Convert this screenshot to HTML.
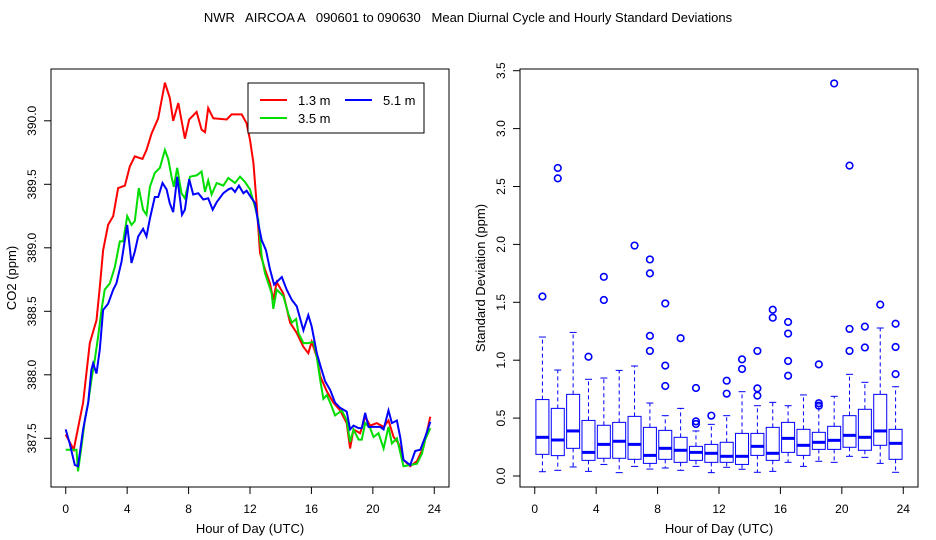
<!DOCTYPE html>
<html><head><meta charset="utf-8"><style>
body{margin:0;background:#fff;}
svg{display:block;font-family:"Liberation Sans",sans-serif;}
#title{white-space:pre;}
</style></head><body>
<svg id="c" width="936" height="540">
<text id="title" x="468" y="22" font-size="13" text-anchor="middle" xml:space="preserve">NWR   AIRCOA A   090601 to 090630   Mean Diurnal Cycle and Hourly Standard Deviations</text>
<g id="left"></g>
<g id="right"></g>
</svg>
<script>
const redHours=[0,0.52,1.13,1.57,2.0,2.22,2.43,2.76,3.09,3.41,3.85,4.17,4.5,5.0,5.26,5.59,6.02,6.46,6.78,7.0,7.33,7.76,8.04,8.52,8.85,9.07,9.28,9.61,10.48,10.8,11.46,11.78,12.0,12.22,12.43,12.65,12.98,13.3,13.52,13.74,14.17,14.61,15.04,15.48,15.8,16.02,16.35,16.57,17.0,17.43,17.87,18.3,18.52,18.74,19.17,19.5,19.83,20.26,20.7,21.02,21.35,21.67,22.0,22.43,22.87,23.3,23.74];
const redVals=[387.53,387.41,387.78,388.25,388.43,388.69,388.98,389.18,389.25,389.47,389.49,389.64,389.72,389.70,389.77,389.90,390.02,390.30,390.18,390.00,390.14,389.86,390.01,390.07,389.93,389.91,390.10,390.02,390.01,390.05,390.05,389.98,389.85,389.67,389.35,388.96,388.83,388.72,388.59,388.73,388.64,388.41,388.33,388.22,388.17,388.26,388.14,387.99,387.87,387.78,387.72,387.62,387.42,387.57,387.54,387.67,387.60,387.62,387.59,387.64,387.51,387.46,387.33,387.28,387.32,387.43,387.67];
const greenHours=[0,0.70,0.80,1.02,1.24,1.46,1.67,1.89,2.11,2.33,2.54,2.87,3.20,3.52,3.74,4.0,4.28,4.5,4.76,5.04,5.26,5.48,5.80,6.13,6.46,6.67,6.89,7.04,7.26,7.54,7.76,8.09,8.52,8.85,9.07,9.28,9.50,9.83,10.26,10.59,11.02,11.35,11.67,12.0,12.33,12.54,12.76,12.98,13.2,13.41,13.52,13.74,14.17,14.5,14.72,15.0,15.15,15.48,15.8,16.13,16.35,16.57,16.78,17.0,17.22,17.54,17.98,18.3,18.52,18.74,19.07,19.28,19.5,19.83,20.04,20.37,20.7,21.02,21.24,21.57,22.0,22.43,22.87,23.2,23.41,23.74];
const greenVals=[387.41,387.41,387.24,387.43,387.64,387.78,387.96,388.12,388.30,388.51,388.67,388.72,388.85,389.05,389.05,389.25,389.18,389.21,389.47,389.30,389.26,389.48,389.59,389.63,389.77,389.70,389.56,389.48,389.63,389.43,389.39,389.56,389.57,389.60,389.44,389.53,389.42,389.51,389.49,389.55,389.51,389.56,389.52,389.46,389.32,389.22,388.93,388.80,388.72,388.64,388.52,388.67,388.62,388.48,388.41,388.44,388.33,388.25,388.25,388.26,388.14,387.96,387.81,387.84,387.78,387.68,387.72,387.64,387.47,387.57,387.49,387.49,387.62,387.58,387.51,387.54,387.42,387.59,387.46,387.50,387.28,387.29,387.30,387.38,387.49,387.58];
const blueHours=[0,0.26,0.59,0.80,1.13,1.46,1.67,1.78,2.0,2.22,2.43,2.76,3.09,3.30,3.63,4.0,4.28,4.5,4.72,5.04,5.26,5.48,5.80,6.02,6.30,6.57,6.78,7.0,7.26,7.57,7.76,8.04,8.30,8.63,8.96,9.28,9.57,9.83,10.26,10.59,10.8,11.02,11.28,11.57,11.78,12.11,12.33,12.54,12.76,13.04,13.3,13.57,14.07,14.39,14.72,15.04,15.48,15.8,16.02,16.35,16.61,16.89,17.22,17.54,17.87,18.3,18.52,18.74,19.07,19.28,19.5,19.72,20.04,20.48,20.7,21.02,21.24,21.57,21.78,22.0,22.43,22.76,23.09,23.41,23.74];
const blueVals=[387.57,387.46,387.29,387.28,387.57,387.78,388.04,388.09,388.01,388.20,388.51,388.56,388.67,388.72,388.89,389.18,388.88,388.97,389.09,389.15,389.09,389.23,389.40,389.40,389.51,389.46,389.35,389.28,389.56,389.26,389.30,389.54,389.42,389.43,389.38,389.39,389.30,389.36,389.43,389.46,389.47,389.44,389.49,389.43,389.45,389.39,389.35,389.19,389.06,388.98,388.83,388.71,388.77,388.67,388.59,388.54,388.35,388.47,388.38,388.17,388.06,387.95,387.88,387.78,387.74,387.71,387.57,387.60,387.58,387.58,387.70,387.59,387.59,387.59,387.57,387.72,387.62,387.64,387.51,387.33,387.29,387.40,387.41,387.51,387.63];
const xTicks=[0,4,8,12,16,20,24];
const leftYTicks=[387.5,388.0,388.5,389.0,389.5,390.0];
const rightYTicks=[0.0,0.5,1.0,1.5,2.0,2.5,3.0,3.5];
const boxHours=[0.5,1.5,2.5,3.5,4.5,5.5,6.5,7.5,8.5,9.5,10.5,11.5,12.5,13.5,14.5,15.5,16.5,17.5,18.5,19.5,20.5,21.5,22.5,23.5];
const q1=[0.187,0.176,0.239,0.135,0.153,0.153,0.144,0.109,0.144,0.118,0.135,0.118,0.118,0.100,0.178,0.135,0.204,0.178,0.230,0.230,0.248,0.222,0.265,0.144];
const med=[0.334,0.311,0.389,0.204,0.273,0.300,0.273,0.178,0.239,0.222,0.204,0.196,0.170,0.170,0.256,0.196,0.325,0.265,0.291,0.308,0.351,0.334,0.389,0.282];
const q3=[0.660,0.584,0.705,0.480,0.438,0.463,0.515,0.420,0.394,0.334,0.256,0.273,0.291,0.368,0.368,0.420,0.463,0.403,0.377,0.429,0.521,0.576,0.705,0.403];
const whiskLo=[0.037,0.049,0.078,0.040,0.100,0.029,0.083,0.060,0.069,0.049,0.083,0.029,0.075,0.058,0.032,0.040,0.118,0.083,0.127,0.118,0.170,0.161,0.109,0.032];
const whiskHi=[1.20,0.915,1.24,0.835,0.846,0.912,0.95,0.63,0.521,0.584,0.389,0.446,0.521,0.728,0.607,0.636,0.607,0.70,0.622,0.688,0.878,0.809,1.278,0.771];
const outliers=[[1.55],[2.66,2.57],[],[1.03],[1.72,1.52],[],[1.99],[1.87,1.75,1.21,1.08],[1.49,0.953,0.777],[1.19],[0.76,0.472,0.449],[0.521],[0.823,0.711],[1.007,0.924],[1.08,0.757,0.694],[1.436,1.367],[1.33,1.23,0.993,0.866],[],[0.964,0.628,0.607],[3.39],[2.68,1.27,1.08],[1.29,1.11],[1.48],[1.315,1.114,0.88]];

const NS="http://www.w3.org/2000/svg";
function mk(parent,tag,attrs){const e=document.createElementNS(NS,tag);for(const k in attrs)e.setAttribute(k,attrs[k]);parent.appendChild(e);return e;}
const T=69,B=487;
const L={l:51,r:449};
const lx=h=>L.l+ (h+0.96)*(L.r-L.l)/25.92;
const ly=v=>438.3-(v-387.5)*127;
const R={l:520,r:918};
const rx=h=>R.l+(h+0.96)*(R.r-R.l)/25.92;
const ry=v=>476-v*115.8;

const left=document.getElementById('left');
const right=document.getElementById('right');

function axes(g,box,xf,yTicks,yf,ylabel,ylx){
  const f=mk(g,'rect',{x:box.l,y:T,width:box.r-box.l,height:B-T,fill:'none',stroke:'#000','stroke-width':1});
  
  
  xTicks.forEach(t=>{
    const x=xf(t);
    const tk=mk(g,'line',{x1:x,x2:x,y1:B,y2:B+7,stroke:'#000'});
    
    
    const tx=mk(g,'text',{x:x,y:B+26,'font-size':12,'text-anchor':'middle'});
    tx.textContent=t;
    
    
  });
  yTicks.forEach(t=>{
    const y=yf(t);
    const tk=mk(g,'line',{x1:box.l-7,x2:box.l,y1:y,y2:y,stroke:'#000'});
    
    
    const tx=mk(g,'text',{x:0,y:0,'font-size':12,'text-anchor':'middle',transform:`translate(${box.l-15},${y}) rotate(-90)`});
    tx.textContent=t.toFixed(1);
    
    
  });
  const xt=mk(g,'text',{x:(box.l+box.r)/2,y:533,'font-size':13,'text-anchor':'middle'});
  xt.textContent='Hour of Day (UTC)';
  
  
  const yt=mk(g,'text',{x:0,y:0,'font-size':13,'text-anchor':'middle',transform:`translate(${ylx},${(T+B)/2}) rotate(-90)`});
  yt.textContent=ylabel;
  
  
}
axes(left,L,lx,leftYTicks,ly,'CO2 (ppm)',16);
axes(right,R,rx,rightYTicks,ry,'Standard Deviation (ppm)',485);

function series(hs,vs,color,name){
  const p=mk(left,'polyline',{points:hs.map((h,i)=>lx(h).toFixed(1)+','+ly(vs[i]).toFixed(1)).join(' '),fill:'none',stroke:color,'stroke-width':2});
  
  
}
series(redHours,redVals,'#f00','line-1-3m');
series(greenHours,greenVals,'#0d0','line-3-5m');
series(blueHours,blueVals,'#00f','line-5-1m');

const lg=mk(left,'g',{});


mk(lg,'rect',{x:248,y:83,width:176,height:50,fill:'#fff',stroke:'#000'});
[[260,100,'#f00','1.3 m'],[345,100,'#00f','5.1 m'],[260,118,'#0d0','3.5 m']].forEach(d=>{
  const e=mk(lg,'line',{x1:d[0],x2:d[0]+27,y1:d[1],y2:d[1],stroke:d[2],'stroke-width':2});
  
  
  const t=mk(lg,'text',{x:d[0]+38,y:d[1]+5,'font-size':13});
  t.textContent=d[3];
  
  
});

boxHours.forEach((h,i)=>{
  const g=mk(right,'g',{});
  
  
  const cx=rx(h),w=6.5;
  mk(g,'line',{x1:cx,x2:cx,y1:ry(q3[i]),y2:ry(whiskHi[i]),stroke:'#00f','stroke-dasharray':'4,3'});
  mk(g,'line',{x1:cx,x2:cx,y1:ry(q1[i]),y2:ry(whiskLo[i]),stroke:'#00f','stroke-dasharray':'4,3'});
  mk(g,'line',{x1:cx-3.5,x2:cx+3.5,y1:ry(whiskHi[i]),y2:ry(whiskHi[i]),stroke:'#00f'});
  mk(g,'line',{x1:cx-3.5,x2:cx+3.5,y1:ry(whiskLo[i]),y2:ry(whiskLo[i]),stroke:'#00f'});
  mk(g,'rect',{x:cx-w,y:ry(q3[i]),width:2*w,height:ry(q1[i])-ry(q3[i]),fill:'none',stroke:'#00f'});
  mk(g,'line',{x1:cx-w,x2:cx+w,y1:ry(med[i]),y2:ry(med[i]),stroke:'#00f','stroke-width':3});
  outliers[i].forEach(o=>{
    const c=mk(g,'circle',{cx:cx,cy:ry(o),r:3.3,fill:'none',stroke:'#00f','stroke-width':1.6});
    
    
  });
});
</script>
</body></html>
